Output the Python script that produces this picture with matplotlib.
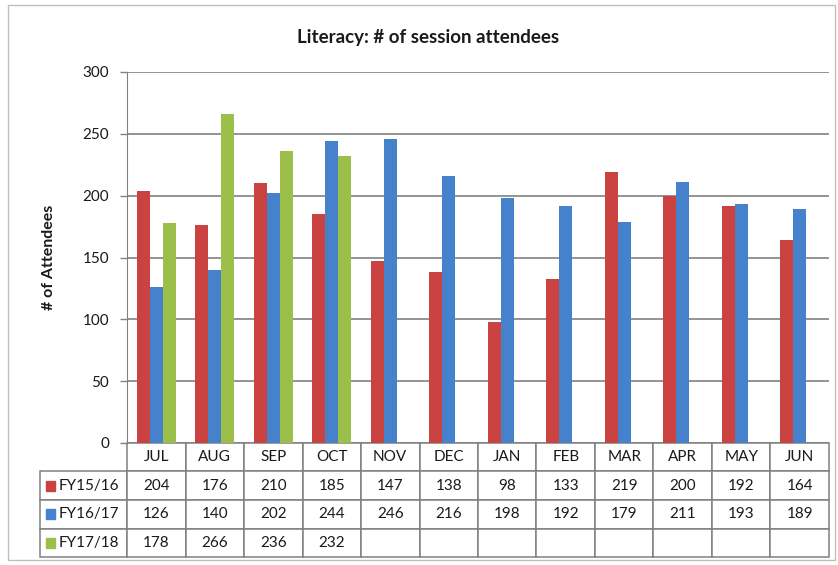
import numpy as np
import matplotlib.pyplot as plt
from matplotlib.patches import Rectangle

plt.rcParams["font.family"] = ["Lato", "DejaVu Sans"]

# -----------------------------------------------------------------------------
# Dados
# -----------------------------------------------------------------------------
meses = ["JUL", "AUG", "SEP", "OCT", "NOV", "DEC",
         "JAN", "FEB", "MAR", "APR", "MAY", "JUN"]
series = ["FY15/16", "FY16/17", "FY17/18"]
fy1516 = [204, 176, 210, 185, 147, 138, 98, 133, 219, 200, 192, 164]
fy1617 = [126, 140, 202, 244, 246, 216, 198, 192, 179, 211, 193, 189]
fy1718 = [178, 266, 236, 232, None, None, None, None, None, None, None, None]
valores = [fy1516, fy1617, fy1718]
cores = ["#CB4340", "#4681CC", "#9CBF4A"]

# -----------------------------------------------------------------------------
# Figura
# -----------------------------------------------------------------------------
W, H = 838, 565
fig = plt.figure(figsize=(W / 100, H / 100), dpi=100)

# borda externa do gráfico
fig.patches.append(Rectangle((8 / W, 1 - 560 / H), 827 / W, 555 / H,
                             transform=fig.transFigure, fill=False,
                             edgecolor="#BFBFBF", lw=1.0))

x_esq, x_dir, y_topo, y_base = 127, 829, 72, 443
ax = fig.add_axes([x_esq / W, 1 - y_base / H,
                   (x_dir - x_esq) / W, (y_base - y_topo) / H])

x = np.arange(len(meses))
largura = 0.222
for i, (nome, vals) in enumerate(zip(series, valores)):
    v = np.array([np.nan if a is None else a for a in vals], dtype=float)
    ax.bar(x + (i - 1) * largura, v, largura, color=cores[i],
           label=nome, zorder=3)

ax.set_xlim(-0.5, len(meses) - 0.5)
ax.set_ylim(0, 300)
ax.set_yticks(np.arange(0, 301, 50))
ax.set_xticks([])
ax.tick_params(axis="y", length=5, width=1, color="#808080",
               labelsize=11, pad=8, labelcolor="#1A1A1A")
ax.yaxis.grid(True, color="#808080", lw=1.2, zorder=0)
for lado in ["top", "right", "bottom"]:
    ax.spines[lado].set_visible(False)
ax.spines["left"].set_color("#808080")

ax.set_ylabel("# of Attendees", fontsize=11.5, fontweight="bold",
              labelpad=19, color="#1A1A1A")
fig.text(428 / W, 1 - 37 / H, "Literacy: # of session attendees",
         ha="center", va="center", fontsize=13.5, fontweight="bold",
         color="#1A1A1A")

# -----------------------------------------------------------------------------
# Tabela de dados
# -----------------------------------------------------------------------------
tab_esq, tab_base = 40, 557
ax_w = x_dir - x_esq
ax_h = y_base - y_topo
texto = [[""] + meses]
for nome, vals in zip(series, valores):
    texto.append([nome] + ["" if a is None else str(a) for a in vals])

larg_tab = x_dir - tab_esq
col_w = [(x_esq - tab_esq) / larg_tab] + [ax_w / len(meses) / larg_tab] * len(meses)
tabela = ax.table(cellText=texto, colWidths=col_w, cellLoc="center",
                  bbox=[(tab_esq - x_esq) / ax_w, -(tab_base - y_base) / ax_h,
                        larg_tab / ax_w, (tab_base - y_base) / ax_h])
tabela.auto_set_font_size(False)
tabela.set_fontsize(11)
for (r, c), cel in tabela.get_celld().items():
    cel.set_edgecolor("#808080")
    cel.set_linewidth(1.1)
    cel.get_text().set_color("#1A1A1A")
    if r == 0 and c == 0:
        cel.visible_edges = ""
    if c == 0 and r > 0:
        cel._loc = "left"
        cel.PAD = 0.21
        cel.get_text().set_ha("left")

# marcadores de legenda na tabela
alt_linha = (tab_base - y_base) / 4
for i in range(len(series)):
    yc = y_base + alt_linha * (i + 1.5)
    ax.add_patch(Rectangle(((46 - x_esq) / ax_w, -(yc + 5 - y_base) / ax_h),
                           9 / ax_w, 10 / ax_h, transform=ax.transAxes,
                           color=cores[i], clip_on=False))

fig.savefig("out.png", dpi=100)
